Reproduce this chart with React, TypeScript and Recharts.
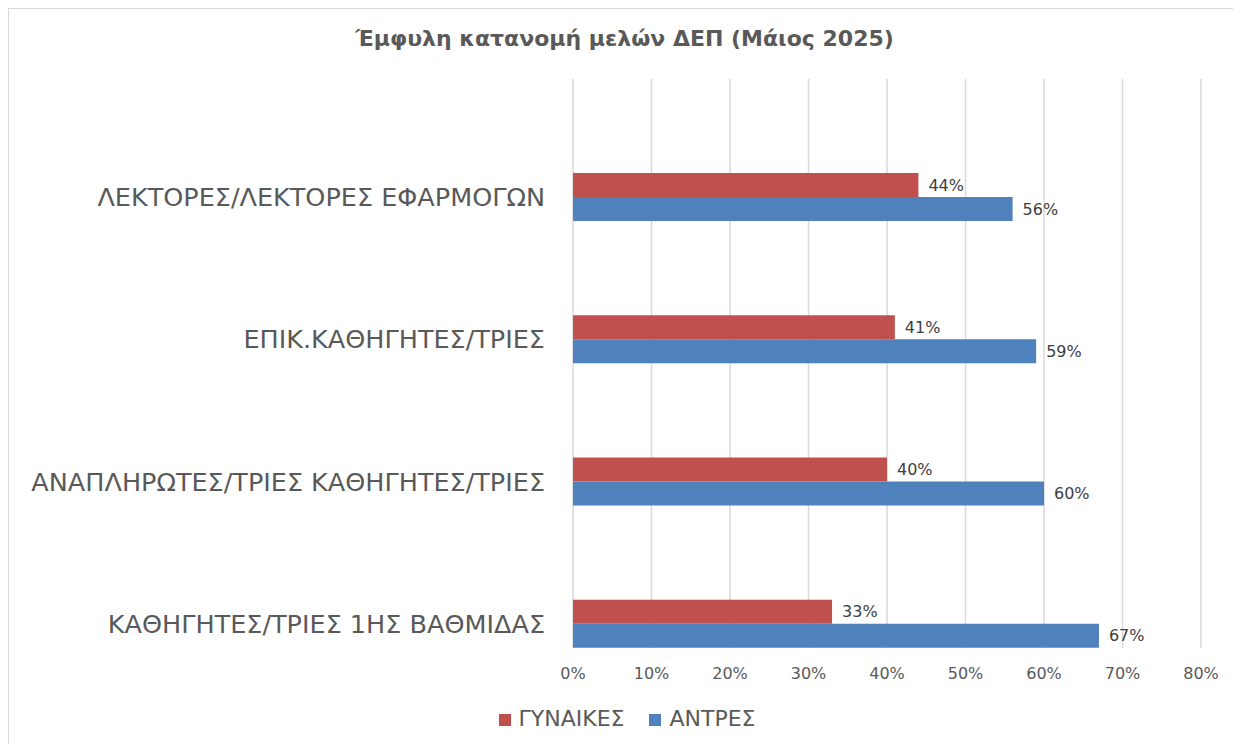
import React from "react";
import { BarChart, Bar, XAxis, YAxis, CartesianGrid, Legend, LabelList } from "recharts";

const categories = [
    "ΛΕΚΤΟΡΕΣ/ΛΕΚΤΟΡΕΣ ΕΦΑΡΜΟΓΩΝ",
    "ΕΠΙΚ.ΚΑΘΗΓΗΤΕΣ/ΤΡΙΕΣ",
    "ΑΝΑΠΛΗΡΩΤΕΣ/ΤΡΙΕΣ ΚΑΘΗΓΗΤΕΣ/ΤΡΙΕΣ",
    "ΚΑΘΗΓΗΤΕΣ/ΤΡΙΕΣ 1ΗΣ ΒΑΘΜΙΔΑΣ",
];
const seriesNames = ["ΓΥΝΑΙΚΕΣ", "ΑΝΤΡΕΣ"];
const women = [44, 41, 40, 33];
const men = [56, 59, 60, 67];
const xTicks = [0, 10, 20, 30, 40, 50, 60, 70, 80];

const data = categories.map((name, i) => ({ name, women: women[i], men: men[i] }));

const font = "DejaVu Sans, Verdana, sans-serif";
const gray = "#595959";

export default function App() {
    return (
        <div
            style={{
                position: "relative",
                width: 1231,
                height: 740,
                border: "1px solid #d9d9d9",
                background: "#fff",
                fontFamily: font,
            }}
        >
            <div
                style={{
                    position: "absolute",
                    top: 17,
                    left: 0,
                    width: "100%",
                    textAlign: "center",
                    fontWeight: "bold",
                    fontSize: 22,
                    color: gray,
                }}
            >
                Έμφυλη κατανομή μελών ΔΕΠ (Μάιος 2025)
            </div>
            <BarChart
                width={1231}
                height={740}
                layout="vertical"
                data={data}
                barGap={0}
                margin={{ top: 70, right: 39, bottom: 18, left: 0 }}
            >
                <CartesianGrid horizontal={false} stroke="#d9d9d9" strokeWidth={1.5} />
                <XAxis
                    type="number"
                    domain={[0, 80]}
                    ticks={xTicks}
                    interval={0}
                    tickFormatter={(v: number) => `${v}%`}
                    axisLine={false}
                    tickLine={false}
                    tickMargin={14}
                    height={58}
                    tick={{ fill: gray, fontSize: 16, fontFamily: font }}
                />
                <YAxis
                    type="category"
                    dataKey="name"
                    width={564}
                    interval={0}
                    axisLine={false}
                    tickLine={false}
                    tickMargin={22}
                    padding={{ top: 47, bottom: -47 }}
                    tick={{ fill: gray, fontSize: 25.5, fontFamily: font }}
                />
                <Legend
                    verticalAlign="bottom"
                    align="center"
                    iconType="square"
                    iconSize={12}
                    itemSorter={(item: any) => seriesNames.indexOf(item.value)}
                    wrapperStyle={{ fontSize: 22, fontFamily: font, left: 15, width: 1231 }}
                    formatter={(value: string) => (
                        <span style={{ color: gray, marginLeft: 4, marginRight: 15 }}>{value}</span>
                    )}
                />
                <Bar dataKey="women" name={seriesNames[0]} fill="#C0504D" barSize={24} isAnimationActive={false}>
                    <LabelList
                        dataKey="women"
                        position="right"
                        offset={10}
                        formatter={(v: number) => `${v}%`}
                        fill="#404040"
                        fontSize={16}
                        fontFamily={font}
                    />
                </Bar>
                <Bar dataKey="men" name={seriesNames[1]} fill="#4F81BD" barSize={24} isAnimationActive={false}>
                    <LabelList
                        dataKey="men"
                        position="right"
                        offset={10}
                        formatter={(v: number) => `${v}%`}
                        fill="#404040"
                        fontSize={16}
                        fontFamily={font}
                    />
                </Bar>
            </BarChart>
        </div>
    );
}
